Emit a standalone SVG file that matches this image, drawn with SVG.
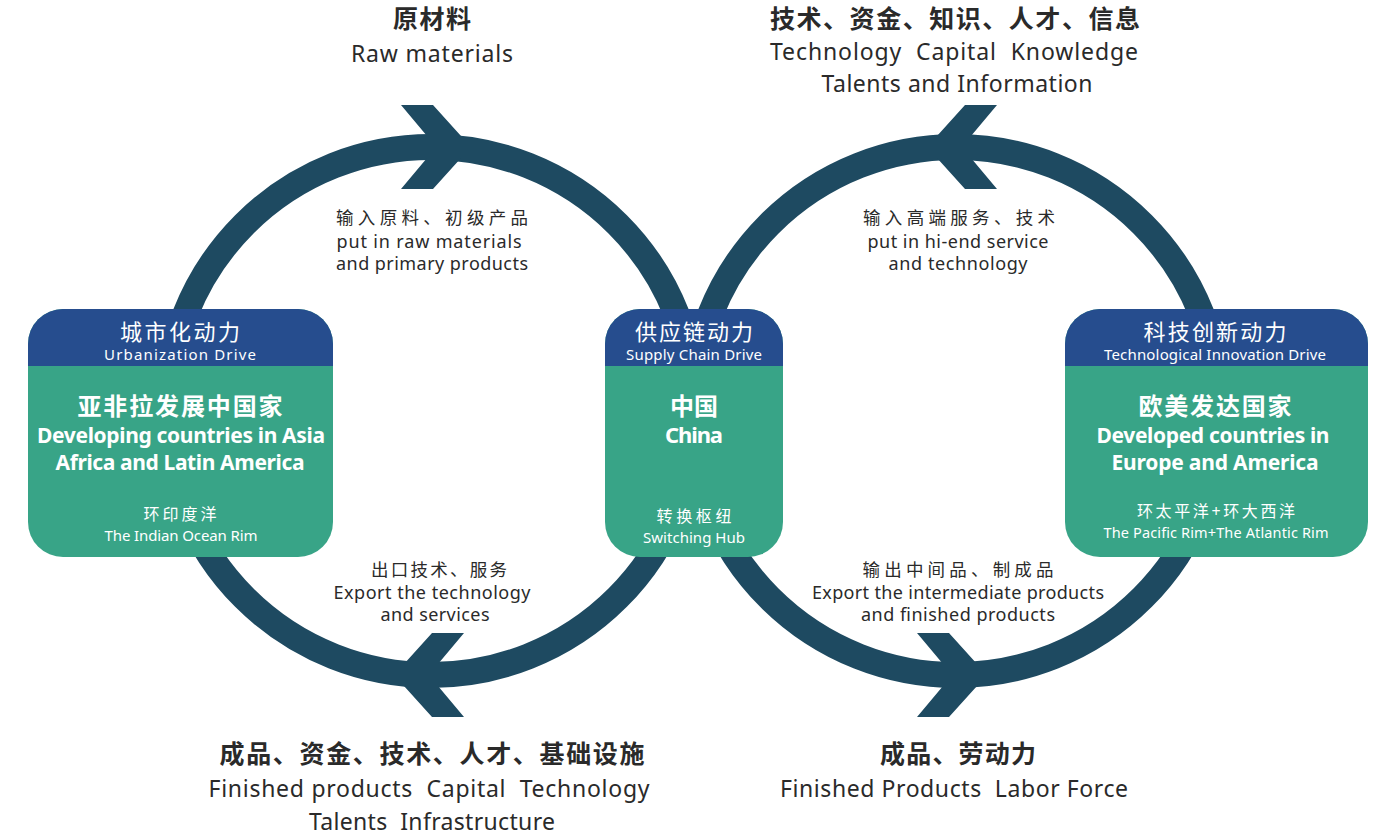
<svg xmlns="http://www.w3.org/2000/svg" width="1389" height="837" viewBox="0 0 1389 837">
<style>
.t{font-family:"Noto Sans","Noto Sans CJK SC",sans-serif;text-anchor:middle;fill:#2a2a2a;white-space:pre}
.b{font-weight:bold}
.w{fill:#ffffff}
.ring{fill:none;stroke:#1E4A61;stroke-width:26}
.head{fill:#264D8E}
.body{fill:#38A487}
</style>
<defs>
<polygon id="chev" points="-30,-42 2,-42 30,-11 30,11 2,42 -30,42 -4,11 -4,-11" fill="#1E4A61"/>
</defs>
<rect width="1389" height="837" fill="#ffffff"/>
<g id="connectors">
<circle class="ring" cx="431" cy="411" r="264"/>
<circle class="ring" cx="956" cy="411" r="264"/>
<use href="#chev" transform="translate(431,147)"/>
<use href="#chev" transform="translate(434,675) rotate(180)"/>
<use href="#chev" transform="translate(967,147) rotate(180)"/>
<use href="#chev" transform="translate(947,675)"/>
</g>
<g id="labels">
<text class="t b" x="432" y="28" font-size="25" textLength="78">原材料</text>
<text class="t" x="432" y="62" font-size="23" textLength="162">Raw materials</text>
<text class="t b" x="955" y="28" font-size="25" textLength="370">技术、资金、知识、人才、信息</text>
<text class="t" x="954" y="60" font-size="23" textLength="368">Technology  Capital  Knowledge</text>
<text class="t" x="957" y="92" font-size="23" textLength="271">Talents and Information</text>
<text class="t" x="432" y="224" font-size="17.5" textLength="192">输入原料、初级产品</text>
<text class="t" x="429" y="248" font-size="18" textLength="185">put in raw materials</text>
<text class="t" x="432" y="270" font-size="18" textLength="192">and primary products</text>
<text class="t" x="959" y="224" font-size="17.5" textLength="192">输入高端服务、技术</text>
<text class="t" x="958" y="248" font-size="18" textLength="181">put in hi-end service</text>
<text class="t" x="958" y="270" font-size="18" textLength="139">and technology</text>
<text class="t" x="439" y="576" font-size="17.5" textLength="136">出口技术、服务</text>
<text class="t" x="432" y="599" font-size="18" textLength="197">Export the technology</text>
<text class="t" x="435" y="621" font-size="18" textLength="109">and services</text>
<text class="t" x="958" y="576" font-size="17.5" textLength="191">输出中间品、制成品</text>
<text class="t" x="958" y="599" font-size="18" textLength="292">Export the intermediate products</text>
<text class="t" x="958" y="621" font-size="18" textLength="194">and finished products</text>
<text class="t b" x="432" y="763" font-size="25" textLength="425">成品、资金、技术、人才、基础设施</text>
<text class="t" x="429" y="797" font-size="23" textLength="441">Finished products  Capital  Technology</text>
<text class="t" x="432" y="830" font-size="23" textLength="246">Talents  Infrastructure</text>
<text class="t b" x="958" y="763" font-size="25" textLength="156">成品、劳动力</text>
<text class="t" x="954" y="797" font-size="23" textLength="348">Finished Products  Labor Force</text>
</g>
<g id="node-left">
<rect class="body" x="28" y="309" width="305" height="248" rx="35"/>
<path class="head" d="M28,366 V344 A35,35 0 0 1 63,309 H298 A35,35 0 0 1 333,344 V366 Z"/>
<text class="t w" x="180" y="340" font-size="22" textLength="120">城市化动力</text>
<text class="t w" x="180" y="360" font-size="15" textLength="152">Urbanization Drive</text>
<text class="t w b" x="180" y="415" font-size="24" textLength="205">亚非拉发展中国家</text>
<text class="t w b" x="181" y="443" font-size="21" textLength="288">Developing countries in Asia</text>
<text class="t w b" x="180" y="470" font-size="21" textLength="249">Africa and Latin America</text>
<text class="t w" x="180" y="520" font-size="16" textLength="73">环印度洋</text>
<text class="t w" x="181" y="541" font-size="15" textLength="153">The Indian Ocean Rim</text>
</g>
<g id="node-china">
<rect class="body" x="605" y="309" width="178" height="248" rx="35"/>
<path class="head" d="M605,366 V344 A35,35 0 0 1 640,309 H748 A35,35 0 0 1 783,344 V366 Z"/>
<text class="t w" x="694" y="340" font-size="22" textLength="118">供应链动力</text>
<text class="t w" x="694" y="360" font-size="15" textLength="136">Supply Chain Drive</text>
<text class="t w b" x="694" y="415" font-size="24" textLength="48">中国</text>
<text class="t w b" x="694" y="443" font-size="22" textLength="58">China</text>
<text class="t w" x="694" y="522" font-size="16" textLength="75">转换枢纽</text>
<text class="t w" x="694" y="543" font-size="15" textLength="102">Switching Hub</text>
</g>
<g id="node-right">
<rect class="body" x="1065" y="309" width="303" height="248" rx="35"/>
<path class="head" d="M1065,366 V344 A35,35 0 0 1 1100,309 H1333 A35,35 0 0 1 1368,344 V366 Z"/>
<text class="t w" x="1215" y="340" font-size="22" textLength="143">科技创新动力</text>
<text class="t w" x="1215" y="360" font-size="15" textLength="222">Technological Innovation Drive</text>
<text class="t w b" x="1215" y="415" font-size="24" textLength="153">欧美发达国家</text>
<text class="t w b" x="1213" y="443" font-size="21" textLength="233">Developed countries in</text>
<text class="t w b" x="1215" y="470" font-size="21" textLength="207">Europe and America</text>
<text class="t w" x="1216" y="517" font-size="16" textLength="158">环太平洋+环大西洋</text>
<text class="t w" x="1216" y="538" font-size="14.5" textLength="225">The Pacific Rim+The Atlantic Rim</text>
</g>
</svg>
